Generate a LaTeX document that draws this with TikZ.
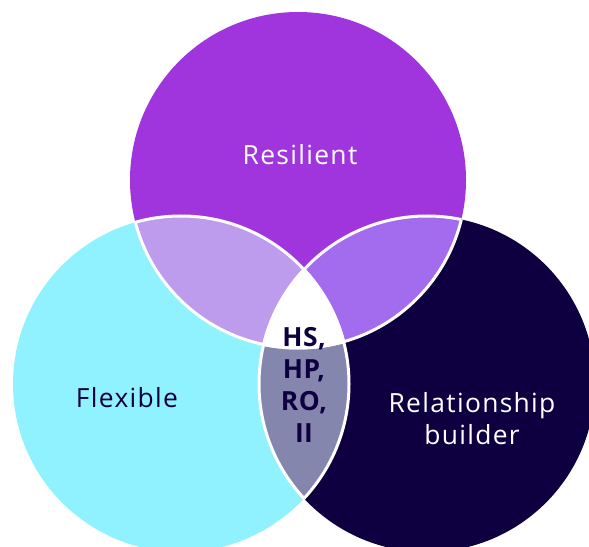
\documentclass[tikz,border=0pt]{standalone}
\usepackage{fontspec}
\setmainfont[LetterSpace=5]{Open Sans}
\definecolor{topc}{HTML}{A035DD}
\definecolor{leftc}{HTML}{90F2FE}
\definecolor{rightc}{HTML}{0E0040}
\definecolor{tlc}{HTML}{BD9CEE}
\definecolor{trc}{HTML}{A36BEE}
\definecolor{lrc}{HTML}{8486AE}
\begin{document}
\begin{tikzpicture}[x=1bp,y=-1bp,
  border/.style={draw=white,line width=3bp},
  lbl/.style={font=\fontsize{26.5}{32}\selectfont,align=center,inner sep=0pt},
  clbl/.style={font=\bfseries\fontsize{26.5}{32}\selectfont\addfontfeature{LetterSpace=2},align=center,inner sep=0pt,text=rightc}]
\useasboundingbox (0,0) rectangle (589,547);
\clip (0,0) rectangle (589,547);
\def\TopC{(298,180) circle[radius=168]}
\def\LeftC{(181,384) circle[radius=168]}
\def\RightC{(427,384) circle[radius=168]}
\fill[topc] \TopC;
\fill[leftc] \LeftC;
\fill[rightc] \RightC;
\begin{scope}\clip \TopC; \fill[tlc] \LeftC; \end{scope}
\begin{scope}\clip \TopC; \fill[trc] \RightC; \end{scope}
\begin{scope}\clip \LeftC; \fill[lrc] \RightC; \end{scope}
\begin{scope}\clip \TopC; \clip \LeftC; \fill[white] \RightC; \end{scope}
\begin{scope}\clip \LeftC; \path[border] \TopC; \path[border] \RightC; \end{scope}
\begin{scope}\clip \RightC; \path[border] \TopC; \path[border] \LeftC; \end{scope}
\begin{scope}\clip \TopC; \path[border] \LeftC; \path[border] \RightC; \end{scope}
\node[lbl,text=white] (res) at (300,155) {Resilient};
\node[lbl,text=rightc] (flex) at (127,398) {Flexible};
\node[lbl,text=white] (rel) at (472,419) {Relationship\\builder};
\node[clbl] (ctr) at (304,385) {HS,\\HP,\\RO,\\II};
\end{tikzpicture}
\end{document}
